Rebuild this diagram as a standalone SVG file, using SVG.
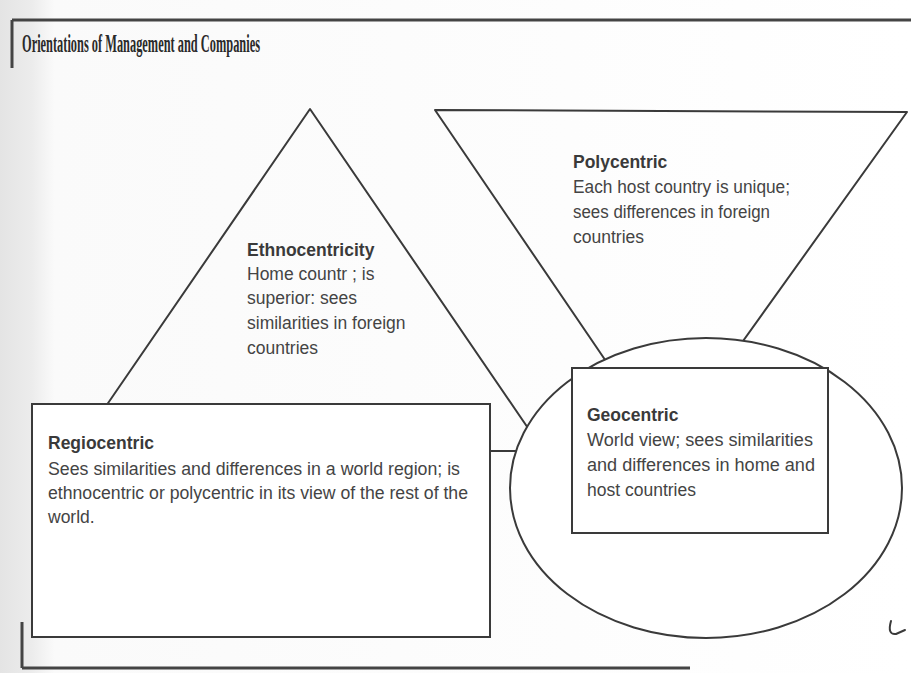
<svg xmlns="http://www.w3.org/2000/svg" width="911" height="673" viewBox="0 0 911 673">
  <defs>
    <linearGradient id="scan" x1="0" y1="0" x2="1" y2="0">
      <stop offset="0" stop-color="#e4e4e4"/>
      <stop offset="0.035" stop-color="#ececec"/>
      <stop offset="0.06" stop-color="#fafafa"/>
      <stop offset="1" stop-color="#ffffff"/>
    </linearGradient>
    <style>
      .ln { fill: none; stroke: #3a3a3a; stroke-width: 2; stroke-linejoin: round; stroke-linecap: round; }
      .box { fill: #ffffff; stroke: #3a3a3a; stroke-width: 2; }
      .frame { fill: none; stroke: #444; stroke-width: 3; }
      .hd { font-family: "Liberation Sans", Arial, sans-serif; font-size: 17.5px; font-weight: bold; fill: #3a3a3a; }
      .tx { font-family: "Liberation Sans", Arial, sans-serif; font-size: 17.5px; fill: #444; }
      .title { font-family: "Liberation Serif", "Times New Roman", serif; font-size: 25px; font-weight: bold; fill: #2a2a2a; }
    </style>
  </defs>

  <rect x="0" y="0" width="911" height="673" fill="url(#scan)"/>

  <g id="frame">
    <line class="frame" x1="12" y1="20" x2="911" y2="20"/>
    <line class="frame" x1="12" y1="20" x2="12" y2="68"/>
    <line class="frame" x1="22" y1="668" x2="690" y2="668"/>
    <line class="frame" x1="22" y1="622" x2="22" y2="668"/>
    <text class="title" x="22" y="52" textLength="238" lengthAdjust="spacingAndGlyphs">Orientations of Management and Companies</text>
  </g>

  <g id="connectors">
    <line class="ln" x1="490" y1="451" x2="520" y2="451"/>
  </g>

  <g id="ethnocentricity">
    <polyline class="ln" points="104,409 310,109 545,453"/>
    <text class="hd" x="247" y="256">Ethnocentricity</text>
    <text class="tx" x="247" y="280">Home countr ; is</text>
    <text class="tx" x="247" y="304">superior: sees</text>
    <text class="tx" x="247" y="329">similarities in foreign</text>
    <text class="tx" x="247" y="354">countries</text>
  </g>

  <g id="polycentric">
    <polyline class="ln" points="612,370 435,110 907,112 733,355"/>
    <text class="hd" x="573" y="168">Polycentric</text>
    <text class="tx" x="573" y="193" textLength="217" lengthAdjust="spacingAndGlyphs">Each host country is unique;</text>
    <text class="tx" x="573" y="218" textLength="197" lengthAdjust="spacingAndGlyphs">sees differences in foreign</text>
    <text class="tx" x="573" y="243">countries</text>
  </g>

  <g id="regiocentric">
    <rect class="box" x="32" y="404" width="458" height="233"/>
    <text class="hd" x="48" y="449">Regiocentric</text>
    <text class="tx" x="48" y="475" textLength="412" lengthAdjust="spacingAndGlyphs">Sees similarities and differences in a world region; is</text>
    <text class="tx" x="48" y="499" textLength="420" lengthAdjust="spacingAndGlyphs">ethnocentric or polycentric in its view of the rest of the</text>
    <text class="tx" x="48" y="523">world.</text>
  </g>

  <g id="geocentric">
    <ellipse class="box" cx="706" cy="488" rx="196" ry="150"/>
    <rect class="box" x="572" y="368" width="256" height="165"/>
    <text class="hd" x="587" y="421">Geocentric</text>
    <text class="tx" x="587" y="446" textLength="226" lengthAdjust="spacingAndGlyphs">World view; sees similarities</text>
    <text class="tx" x="587" y="471" textLength="228" lengthAdjust="spacingAndGlyphs">and differences in home and</text>
    <text class="tx" x="587" y="496">host countries</text>
  </g>

  <path class="ln" d="M891,621 Q887,635 896,634 L905,630" stroke-width="1.8"/>
</svg>
